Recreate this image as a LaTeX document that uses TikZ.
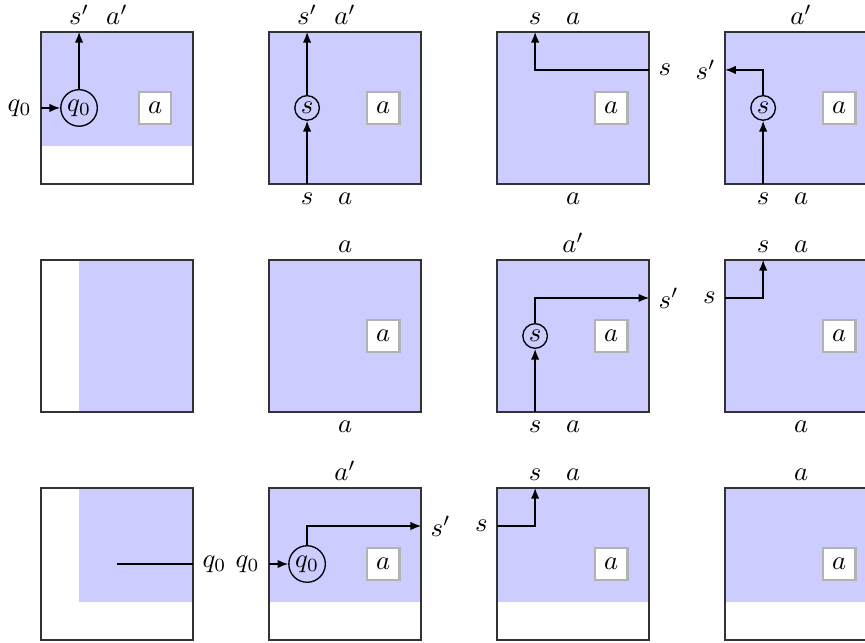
\documentclass[tikz,border=0pt]{standalone}
\usetikzlibrary{arrows.meta,positioning,calc}
\tikzset{
  trans/.style={-{Latex[length=1.4mm,width=1.1mm]}, line width=0.5pt},
  cellfill/.style={fill=blue!20},
  tilebox/.style={draw=black!80, line width=0.6pt, minimum size=2cm, inner sep=0pt, outer sep=0pt},
  statenode/.style={circle, draw, line width=0.5pt, inner sep=1pt},
  symbox/.style={draw=black!30, line width=0.8pt, fill=white, minimum size=0.43cm, inner sep=0pt},
}

\begin{document}
\begin{tikzpicture}[
  lbl/.style={inner sep=0.3333em},
  toplbl/.style={anchor=south, inner xsep=0.3333em, inner ysep=0pt, yshift=0.25em},
]
  \useasboundingbox (-0.54,-6.03) rectangle (10.84,2.42);

  % shaded parts of the cells
  \fill[cellfill] (0,0.5) rectangle (2,2);
  \fill[cellfill] (3,0) rectangle (5,2);
  \fill[cellfill] (6,0) rectangle (8,2);
  \fill[cellfill] (9,0) rectangle (11,2);
  \fill[cellfill] (0.5,-3) rectangle (2,-1);
  \fill[cellfill] (3,-3) rectangle (5,-1);
  \fill[cellfill] (6,-3) rectangle (8,-1);
  \fill[cellfill] (9,-3) rectangle (11,-1);
  \fill[cellfill] (0.5,-5.5) rectangle (2,-4);
  \fill[cellfill] (3,-5.5) rectangle (5,-4);
  \fill[cellfill] (6,-5.5) rectangle (8,-4);
  \fill[cellfill] (9,-5.5) rectangle (11,-4);

  % cells
  \foreach \r/\y in {1/1,2/-2,3/-5}
    \foreach \c/\x in {1/1,2/4,3/7,4/10}
      \node[tilebox] (c\r\c) at (\x,\y) {};

  % symbol boxes
  \foreach \n/\x/\y in {11/1.5/1, 12/4.5/1, 13/7.5/1, 14/10.5/1,
                        22/4.5/-2, 23/7.5/-2, 24/10.5/-2,
                        32/4.5/-5, 33/7.5/-5, 34/10.5/-5}
    \node[symbox] (b\n) at (\x,\y) {$a$};

  % row 1
  \node[statenode] (q11) at (0.5,1) {$q_0$};
  \node[lbl, anchor=east] (i11) at (0,1) {$q_0$};
  \node[toplbl] (o11) at (0.5,2) {$s'$};
  \node[toplbl] (oa11) at (1,2) {$a'$};
  \draw[trans] (i11.east) -- (q11);
  \draw[trans] (q11) -- (q11 |- c11.north);

  \node[statenode] (s12) at (3.5,1) {$s$};
  \node[lbl, anchor=north] (i12) at (3.5,0) {$s$};
  \node[lbl, anchor=north] (ia12) at (4,0) {$a$};
  \node[toplbl] (o12) at (3.5,2) {$s'$};
  \node[toplbl] (oa12) at (4,2) {$a'$};
  \draw[trans] (i12.north) -- (s12);
  \draw[trans] (s12) -- (s12 |- c12.north);

  \node[lbl, anchor=west] (i13) at (8,1.5) {$s$};
  \node[toplbl] (o13) at (6.5,2) {$s$};
  \node[toplbl] (oa13) at (7,2) {$a$};
  \node[lbl, anchor=north] (ia13) at (7,0) {$a$};
  \draw[trans] (i13.west) -| (o13 |- c13.north);

  \node[statenode] (s14) at (9.5,1) {$s$};
  \node[lbl, anchor=north] (i14) at (9.5,0) {$s$};
  \node[lbl, anchor=north] (ia14) at (10,0) {$a$};
  \node[toplbl] (oa14) at (10,2) {$a'$};
  \node[lbl, anchor=east] (o14) at (9,1.5) {$s'$};
  \draw[trans] (i14.north) -- (s14);
  \draw[trans] (s14) |- (o14.east);

  % row 2
  \node[toplbl] (oa22) at (4,-1) {$a$};
  \node[lbl, anchor=north] (ia22) at (4,-3) {$a$};

  \node[statenode] (s23) at (6.5,-2) {$s$};
  \node[lbl, anchor=north] (i23) at (6.5,-3) {$s$};
  \node[lbl, anchor=north] (ia23) at (7,-3) {$a$};
  \node[toplbl] (oa23) at (7,-1) {$a'$};
  \node[lbl, anchor=west] (o23) at (8,-1.5) {$s'$};
  \draw[trans] (i23.north) -- (s23);
  \draw[trans] (s23) |- (o23.west);

  \node[lbl, anchor=east] (i24) at (9,-1.5) {$s$};
  \node[toplbl] (o24) at (9.5,-1) {$s$};
  \node[toplbl] (oa24) at (10,-1) {$a$};
  \node[lbl, anchor=north] (ia24) at (10,-3) {$a$};
  \draw[trans] (i24.east) -| (o24 |- c24.north);

  % row 3
  \coordinate (m31) at (1,-5);
  \node[lbl, anchor=west] (o31) at (2,-5) {$q_0$};
  \draw[line width=0.5pt] (m31) -- (o31.west);

  \node[statenode] (q32) at (3.5,-5) {$q_0$};
  \node[lbl, anchor=east] (i32) at (3,-5) {$q_0$};
  \node[toplbl] (oa32) at (4,-4) {$a'$};
  \node[lbl, anchor=west] (o32) at (5,-4.5) {$s'$};
  \draw[trans] (i32.east) -- (q32);
  \draw[trans] (q32) |- (o32.west);

  \node[lbl, anchor=east] (i33) at (6,-4.5) {$s$};
  \node[toplbl] (o33) at (6.5,-4) {$s$};
  \node[toplbl] (oa33) at (7,-4) {$a$};
  \draw[trans] (i33.east) -| (o33 |- c33.north);

  \node[toplbl] (oa34) at (10,-4) {$a$};
\end{tikzpicture}
\end{document}
